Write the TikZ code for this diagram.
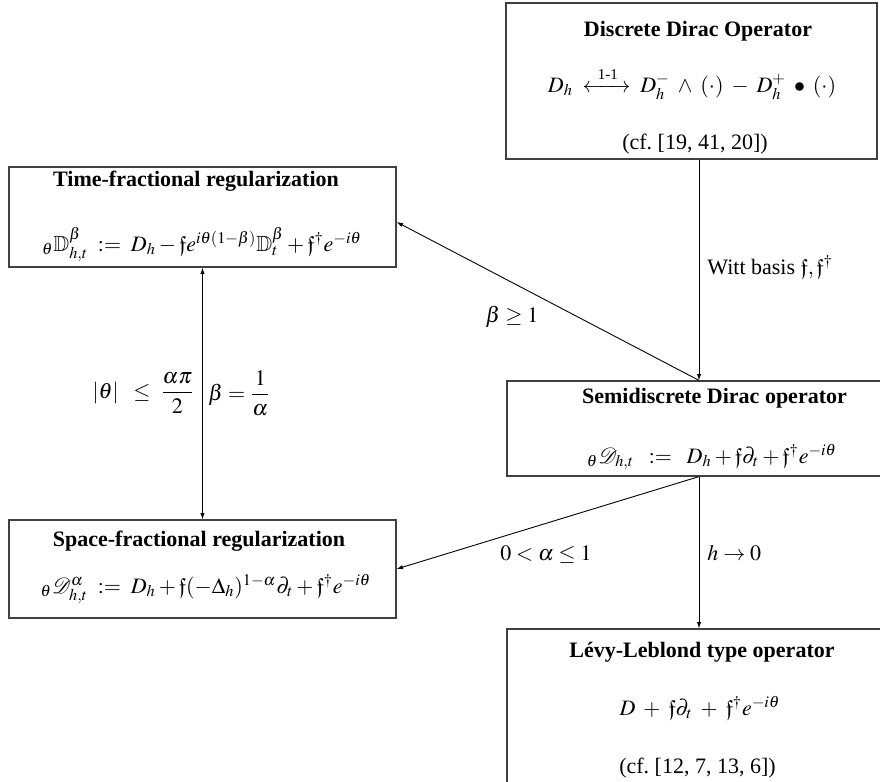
\documentclass[tikz,border=0pt]{standalone}
\usepackage{amsmath,amssymb,mathtools}
\usepackage{mathptmx}
\usepackage{fontspec}
\setmainfont{Liberation Serif}
\usetikzlibrary{arrows.meta}
\begin{document}
\begin{tikzpicture}[x=0.5pt,y=-0.5pt,
  box/.style={draw=black!75,line width=0.6pt,rectangle,inner sep=0pt},
  ttl/.style={anchor=base,inner sep=0pt,font=\bfseries\fontsize{11}{13}\selectfont},
  txt/.style={anchor=base,inner sep=0pt,font=\fontsize{11}{13}\selectfont},
  lbl/.style={inner sep=0pt,font=\fontsize{11}{13}\selectfont},
  arr/.style={line width=0.45pt,-{Latex[length=3.2pt,width=2.2pt]}},
  darr/.style={line width=0.45pt,{Latex[length=3.2pt,width=2.2pt]}-{Latex[length=3.2pt,width=2.2pt]}}]
\useasboundingbox (0,0) rectangle (880,782);
\clip (0,0) rectangle (880,782);
% boxes
\node[box,minimum width=185.5pt,minimum height=78pt] (dd) at (691.5,81) {};
\node[box,minimum width=193.5pt,minimum height=50pt] (tf) at (202.5,217) {};
\node[box,minimum width=193.5pt,minimum height=49pt] (sf) at (202.5,569) {};
\node[box,minimum width=192pt,minimum height=47.5pt] (sd) at (699,428.5) {};
\node[box,minimum width=192pt,minimum height=85.5pt] (ll) at (699,714.5) {};
% box texts
\node[ttl] (ddT) at (698,36) {Discrete Dirac Operator};
\node[txt] (ddF) at (692,92) {$D_h \;\xleftrightarrow{\makebox[1.6em]{\fontsize{7.5}{8}\selectfont 1-1}}\; D_h^{-} \;\wedge\; (\cdot) \;-\; D_h^{+} \;\bullet\; (\cdot)$};
\node[txt] (ddC) at (695,149) {(cf.\ [19, 41, 20])};
\node[ttl] (tfT) at (196,186) {Time-fractional regularization};
\node[txt] (tfF) at (202,251) {${}_{\theta}\mathbb{D}^{\beta}_{h,t} \;:=\; D_h - \mathfrak{f}e^{i\theta(1-\beta)}\mathbb{D}^{\beta}_{t} + \mathfrak{f}^{\dagger}e^{-i\theta}$};
\node[ttl] (sfT) at (199,546) {Space-fractional regularization};
\node[txt] (sfF) at (206,593) {${}_{\theta}\mathcal{D}^{\alpha}_{h,t} \;:=\; D_h + \mathfrak{f}(-\Delta_h)^{1-\alpha}\partial_t + \mathfrak{f}^{\dagger}e^{-i\theta}$};
\node[ttl] (sdT) at (714.5,403) {Semidiscrete Dirac operator};
\node[txt] (sdF) at (712,463) {${}_{\theta}\mathcal{D}_{h,t} \;\;:=\;\; D_h + \mathfrak{f}\partial_t + \mathfrak{f}^{\dagger}e^{-i\theta}$};
\node[ttl] (llT) at (702,657) {Lévy-Leblond type operator};
\node[txt] (llF) at (700,715) {$D \;+\; \mathfrak{f}\partial_t \;+\; \mathfrak{f}^{\dagger}e^{-i\theta}$};
\node[txt] (llC) at (697.5,773) {(cf.\ [12, 7, 13, 6])};
% connectors
\draw[arr] (sd.north |- dd.south) -- (sd.north);
\draw[arr] (sd.north) -- ([yshift=-2.5pt]tf.east);
\draw[arr] (sd.south) -- (sf.east);
\draw[arr] (sd.south) -- (ll.north);
\draw[darr] (tf.south) -- (sf.north);
% labels
\node[lbl,anchor=west] (lw) at (707,267) {Witt basis $\mathfrak{f}, \mathfrak{f}^{\dagger}$};
\node[lbl] (lb) at (512,317) {$\beta \geq 1$};
\node[lbl] (la) at (546,555) {$0<\alpha\leq 1$};
\node[lbl,anchor=west] (lh) at (707,553) {$h\to 0$};
\node[lbl,anchor=east] (lt) at (195,393) {$|\theta| \;\;\leq\; \dfrac{\alpha\pi}{2}$};
\node[lbl,anchor=west] (lbe) at (208,393) {$\beta = \dfrac{1}{\alpha}$};
\end{tikzpicture}
\end{document}
